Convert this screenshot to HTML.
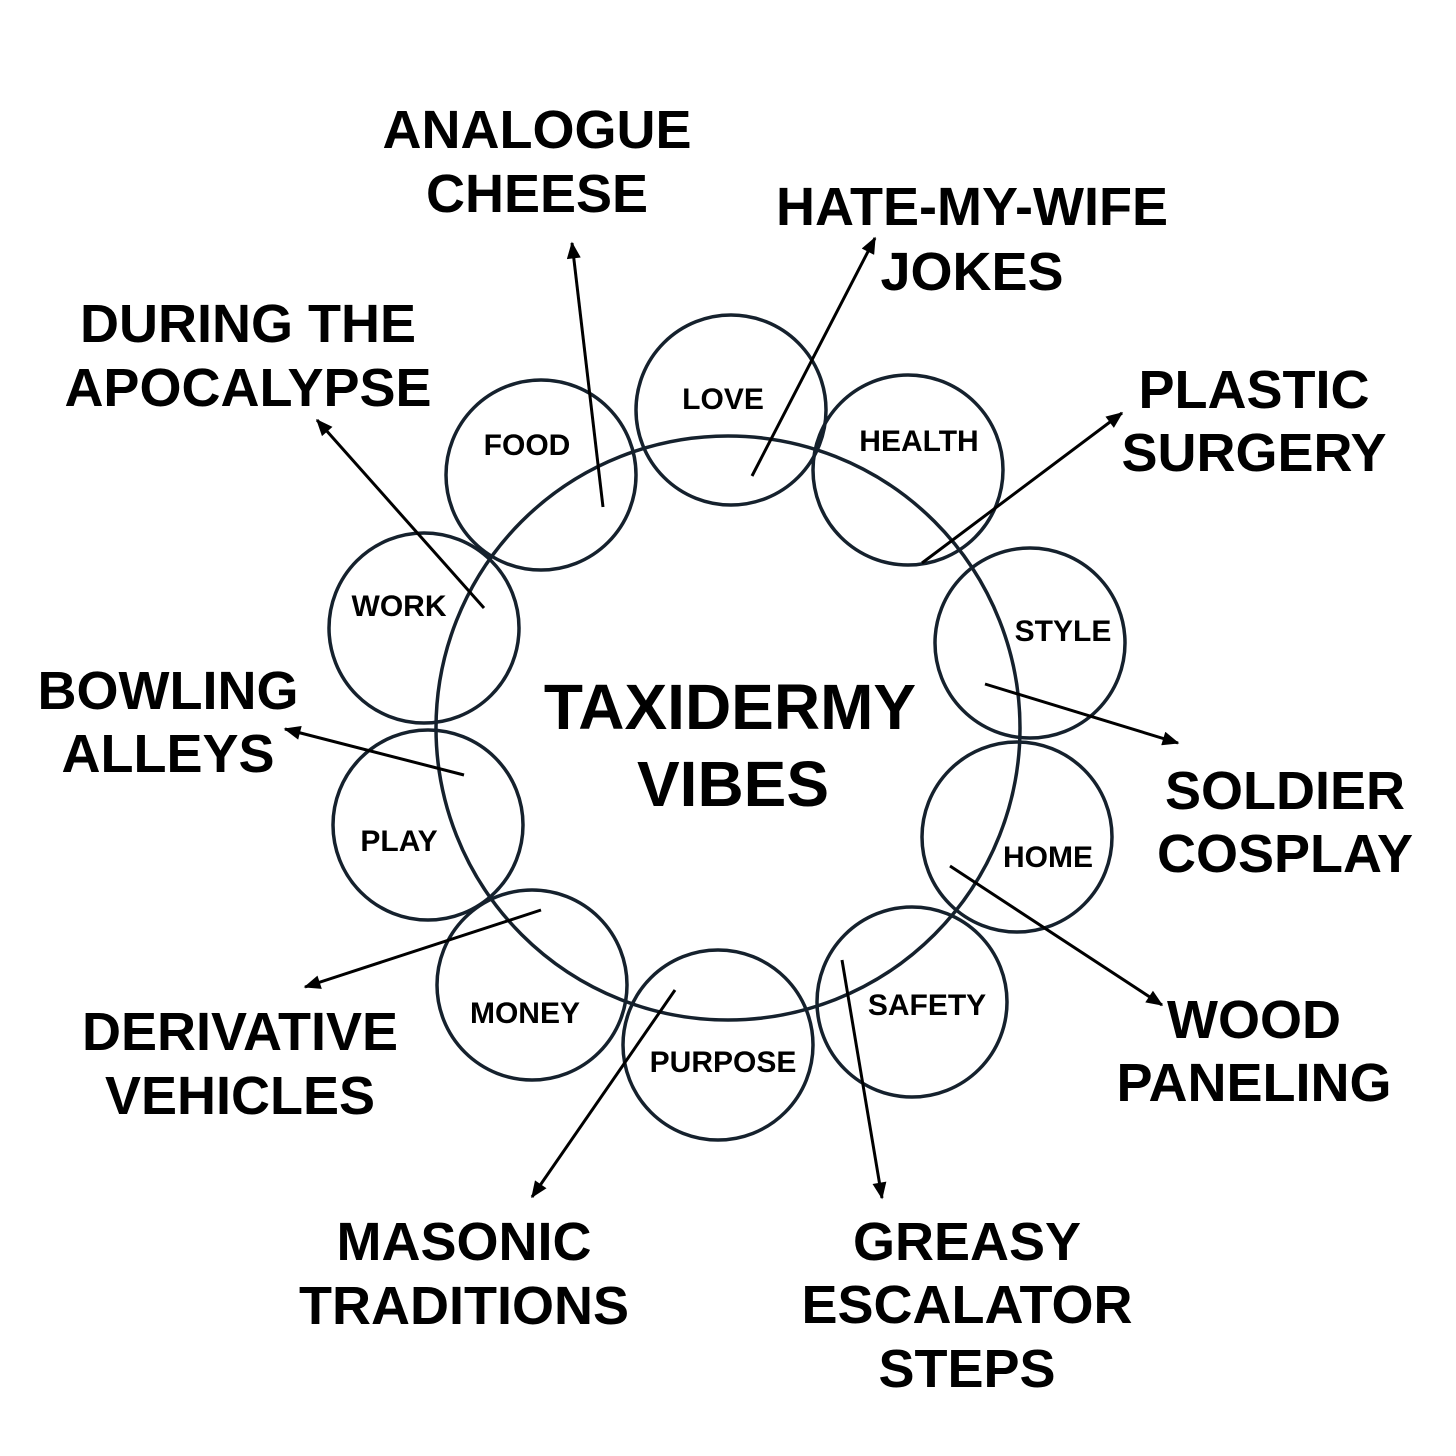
<!DOCTYPE html>
<html><head><meta charset="utf-8"><style>
html,body{margin:0;padding:0;background:#fff;}
svg{display:block;}
text{font-family:"Liberation Sans",Arial,sans-serif;font-weight:bold;fill:#000;text-anchor:middle;}
.big{font-size:54px;}
.sm{font-size:30px;}
.ctr{font-size:64px;}
</style></head><body>
<svg width="1456" height="1456" viewBox="0 0 1456 1456" xmlns="http://www.w3.org/2000/svg">
<defs>
<marker id="a" viewBox="0 0 12 10" refX="11" refY="5" markerWidth="18" markerHeight="14" orient="auto" markerUnits="userSpaceOnUse"><path d="M0,0 L12,5 L0,10 z" fill="#000"/></marker>
</defs>
<g fill="none" stroke="#15212d" stroke-width="3.5">
<circle cx="728" cy="728" r="292"/>
<circle cx="731" cy="410" r="95"/>
<circle cx="541" cy="475" r="95"/>
<circle cx="908" cy="470" r="95"/>
<circle cx="424" cy="628" r="95"/>
<circle cx="1030" cy="643" r="95"/>
<circle cx="428" cy="825" r="95"/>
<circle cx="1017" cy="837" r="95"/>
<circle cx="532" cy="985" r="95"/>
<circle cx="912" cy="1002" r="95"/>
<circle cx="718" cy="1045" r="95"/>
</g>
<g stroke="#000" stroke-width="3" marker-end="url(#a)">
<line x1="603" y1="507" x2="572" y2="243"/>
<line x1="752" y1="476" x2="875" y2="238"/>
<line x1="922" y1="563" x2="1122" y2="413"/>
<line x1="484" y1="608" x2="317" y2="420"/>
<line x1="985" y1="684" x2="1178" y2="743"/>
<line x1="464" y1="775" x2="285" y2="729"/>
<line x1="950" y1="866" x2="1162" y2="1005"/>
<line x1="541" y1="910" x2="305" y2="987"/>
<line x1="675" y1="990" x2="532" y2="1197"/>
<line x1="842" y1="960" x2="882" y2="1198"/>
</g>
<g>
<text class="sm" x="723" y="409">LOVE</text>
<text class="sm" x="527" y="455">FOOD</text>
<text class="sm" x="919" y="451">HEALTH</text>
<text class="sm" x="399" y="616">WORK</text>
<text class="sm" x="1063" y="641">STYLE</text>
<text class="sm" x="399" y="851">PLAY</text>
<text class="sm" x="1048" y="867">HOME</text>
<text class="sm" x="525" y="1023">MONEY</text>
<text class="sm" x="927" y="1015">SAFETY</text>
<text class="sm" x="723" y="1072">PURPOSE</text>
</g>
<text class="ctr" x="730" y="729">TAXIDERMY</text>
<text class="ctr" x="733" y="806">VIBES</text>
<g>
<text class="big" x="537" y="148">ANALOGUE</text>
<text class="big" x="537" y="212">CHEESE</text>
<text class="big" x="972" y="225">HATE-MY-WIFE</text>
<text class="big" x="972" y="290">JOKES</text>
<text class="big" x="248" y="342">DURING THE</text>
<text class="big" x="248" y="406">APOCALYPSE</text>
<text class="big" x="1254" y="408">PLASTIC</text>
<text class="big" x="1254" y="471">SURGERY</text>
<text class="big" x="168" y="709">BOWLING</text>
<text class="big" x="168" y="772">ALLEYS</text>
<text class="big" x="1285" y="809">SOLDIER</text>
<text class="big" x="1285" y="872">COSPLAY</text>
<text class="big" x="240" y="1050">DERIVATIVE</text>
<text class="big" x="240" y="1114">VEHICLES</text>
<text class="big" x="1254" y="1038">WOOD</text>
<text class="big" x="1254" y="1101">PANELING</text>
<text class="big" x="464" y="1260">MASONIC</text>
<text class="big" x="464" y="1324">TRADITIONS</text>
<text class="big" x="967" y="1260">GREASY</text>
<text class="big" x="967" y="1323">ESCALATOR</text>
<text class="big" x="967" y="1387">STEPS</text>
</g>
</svg>
</body></html>
